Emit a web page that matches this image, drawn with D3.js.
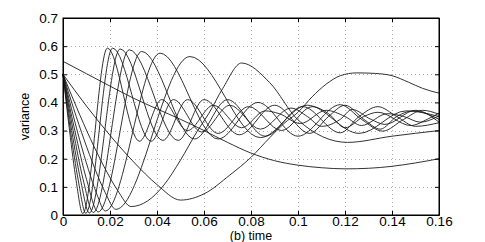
<!DOCTYPE html>
<html>
<head>
<meta charset="utf-8">
<script src="https://cdn.jsdelivr.net/npm/d3@7"></script>
<style>
    body { margin: 0; background: #fff; }
    .axis text { font-family: "Liberation Sans", Arial, sans-serif; font-size: 13.5px; fill: #000; }
    .axis path, .axis line { stroke: #000; }
    .grid line { stroke: #9a9a9a; stroke-width: 0.8px; stroke-dasharray: 1,3; }
    path.curve { fill: none; stroke: #1c1c1c; stroke-width: 0.9px; }
    .label { font-family: "Liberation Sans", Arial, sans-serif; fill: #000; }
</style>
</head>
<body>
<script>
    // tick values and labels
    const xTicks = [0, 0.02, 0.04, 0.06, 0.08, 0.1, 0.12, 0.14, 0.16];
    const xTickLabels = ["0", "0.02", "0.04", "0.06", "0.08", "0.1", "0.12", "0.14", "0.16"];
    const yTicks = [0, 0.1, 0.2, 0.3, 0.4, 0.5, 0.6, 0.7];
    const yTickLabels = ["0", "0.1", "0.2", "0.3", "0.4", "0.5", "0.6", "0.7"];

    // [time, variance] pairs
    const curve1 = [[0,0.5],[0.0028,0.299],[0.0056,0.122],[0.0084,0.005],[0.0189,0.593],[0.0325,0.262],[0.042,0.41],[0.053,0.30],[0.064,0.39],[0.076,0.31],[0.086,0.37],[0.092,0.36],[0.101,0.325],[0.112,0.372],[0.12,0.35],[0.127,0.318],[0.138,0.36],[0.145,0.35],[0.152,0.33],[0.16,0.352]];
    const curve2 = [[0,0.5],[0.0032,0.299],[0.0065,0.123],[0.0097,0.006],[0.0211,0.593],[0.0375,0.262],[0.047,0.41],[0.059,0.295],[0.071,0.39],[0.084,0.305],[0.097,0.38],[0.104,0.35],[0.11,0.315],[0.118,0.34],[0.123,0.375],[0.131,0.34],[0.137,0.322],[0.15,0.372],[0.16,0.33]];
    const curve3 = [[0,0.5],[0.0037,0.3],[0.0075,0.124],[0.0112,0.007],[0.0243,0.59],[0.0425,0.265],[0.053,0.41],[0.066,0.29],[0.079,0.385],[0.093,0.30],[0.106,0.385],[0.113,0.36],[0.12,0.31],[0.128,0.35],[0.134,0.365],[0.148,0.318],[0.155,0.34],[0.16,0.362]];
    const curve4 = [[0,0.5],[0.0043,0.301],[0.0086,0.125],[0.0129,0.009],[0.0282,0.587],[0.049,0.265],[0.06,0.41],[0.075,0.285],[0.09,0.39],[0.105,0.29],[0.113,0.35],[0.12,0.39],[0.128,0.34],[0.135,0.305],[0.142,0.35],[0.149,0.37],[0.16,0.34]];
    const curve5 = [[0,0.5],[0.005,0.301],[0.01,0.127],[0.015,0.011],[0.0335,0.581],[0.056,0.27],[0.07,0.41],[0.086,0.28],[0.102,0.385],[0.118,0.292],[0.126,0.35],[0.134,0.385],[0.142,0.35],[0.15,0.315],[0.16,0.328]];
    const curve6 = [[0,0.5],[0.0036,0.378],[0.0072,0.264],[0.0108,0.162],[0.0144,0.074],[0.018,0.014],[0.0413,0.575],[0.066,0.27],[0.083,0.40],[0.1,0.28],[0.118,0.392],[0.127,0.34],[0.136,0.298],[0.145,0.34],[0.153,0.372],[0.16,0.358]];
    const curve7 = [[0,0.5],[0.0045,0.379],[0.009,0.267],[0.0135,0.166],[0.018,0.079],[0.0225,0.02],[0.054,0.563],[0.084,0.275],[0.104,0.39],[0.126,0.29],[0.146,0.37],[0.16,0.35]];
    const curve8 = [[0,0.5],[0.0058,0.382],[0.0116,0.272],[0.0174,0.173],[0.0232,0.088],[0.029,0.03],[0.036,0.05],[0.043,0.107],[0.05,0.195],[0.057,0.296],[0.062,0.36],[0.068,0.45],[0.076,0.54],[0.088,0.47],[0.1,0.338],[0.121,0.258],[0.14,0.28],[0.16,0.30]];
    const curve9 = [[0,0.5],[0.01,0.387],[0.02,0.283],[0.03,0.189],[0.04,0.108],[0.05,0.053],[0.06,0.075],[0.071,0.142],[0.08,0.205],[0.088,0.275],[0.094,0.325],[0.1,0.365],[0.106,0.42],[0.112,0.465],[0.118,0.495],[0.125,0.505],[0.133,0.503],[0.14,0.495],[0.147,0.472],[0.153,0.45],[0.16,0.433]];
    const curveSlow = [[0,0.546],[0.01,0.502],[0.02,0.458],[0.03,0.415],[0.04,0.377],[0.05,0.34],[0.06,0.3],[0.07,0.258],[0.08,0.22],[0.09,0.193],[0.1,0.177],[0.11,0.168],[0.12,0.164],[0.13,0.166],[0.14,0.173],[0.15,0.185],[0.16,0.2]];

    const curves = [curve1, curve2, curve3, curve4, curve5, curve6, curve7, curve8, curve9, curveSlow];

    const width = 485, height = 242;
    const margin = {top: 18, right: 46, bottom: 27, left: 63};

    let svg = d3.select("body").append("svg")
        .attr("width", width)
        .attr("height", height);

    let x = d3.scaleLinear().domain([0, 0.16]).range([margin.left, width - margin.right]);
    let y = d3.scaleLinear().domain([0, 0.7]).range([height - margin.bottom, margin.top]);

    // dotted grid
    let grid = svg.append("g").attr("class", "grid");
    grid.selectAll("line.v")
        .data(xTicks.slice(1, -1))
        .join("line")
        .attr("class", "v")
        .attr("x1", d => Math.round(x(d)) + 0.5).attr("x2", d => Math.round(x(d)) + 0.5)
        .attr("y1", y(0.7)).attr("y2", y(0));
    grid.selectAll("line.h")
        .data(yTicks.slice(1, -1))
        .join("line")
        .attr("class", "h")
        .attr("y1", d => Math.round(y(d)) + 0.5).attr("y2", d => Math.round(y(d)) + 0.5)
        .attr("x1", x(0)).attr("x2", x(0.16));

    // curves
    let line = d3.line()
        .x(d => x(d[0]))
        .y(d => y(d[1]))
        .curve(d3.curveMonotoneX);

    svg.selectAll("path.curve")
        .data(curves)
        .join("path")
        .attr("class", "curve")
        .attr("d", line);

    // axes, ticks pointing inwards
    svg.append("g")
        .attr("class", "axis")
        .attr("transform", "translate(0," + y(0) + ")")
        .call(d3.axisBottom(x).tickValues(xTicks).tickFormat((d, i) => xTickLabels[i])
            .tickSizeInner(-4).tickSizeOuter(0).tickPadding(1.5));
    svg.append("g")
        .attr("class", "axis")
        .attr("transform", "translate(" + x(0) + ",0)")
        .call(d3.axisLeft(y).tickValues(yTicks).tickFormat((d, i) => yTickLabels[i])
            .tickSizeInner(-4).tickSizeOuter(0).tickPadding(5));
    svg.append("g")
        .attr("class", "axis")
        .attr("transform", "translate(0," + y(0.7) + ")")
        .call(d3.axisTop(x).tickValues(xTicks).tickFormat("").tickSizeInner(-4).tickSizeOuter(0));
    svg.append("g")
        .attr("class", "axis")
        .attr("transform", "translate(" + x(0.16) + ",0)")
        .call(d3.axisRight(y).tickValues(yTicks).tickFormat("").tickSizeInner(-4).tickSizeOuter(0));

    // box
    svg.append("rect")
        .attr("x", x(0)).attr("y", y(0.7))
        .attr("width", x(0.16) - x(0)).attr("height", y(0) - y(0.7))
        .attr("fill", "none").attr("stroke", "#000").attr("stroke-width", 1);

    // labels
    svg.append("text")
        .attr("class", "label")
        .attr("text-anchor", "middle")
        .attr("x", (x(0) + x(0.16)) / 2)
        .attr("y", 239.5)
        .style("font-size", "12.5px")
        .text("(b) time");

    svg.append("text")
        .attr("class", "label")
        .attr("text-anchor", "middle")
        .attr("transform", "translate(29," + (y(0) + y(0.7)) / 2 + ") rotate(-90)")
        .style("font-size", "12.5px")
        .text("variance");
</script>
</body>
</html>
